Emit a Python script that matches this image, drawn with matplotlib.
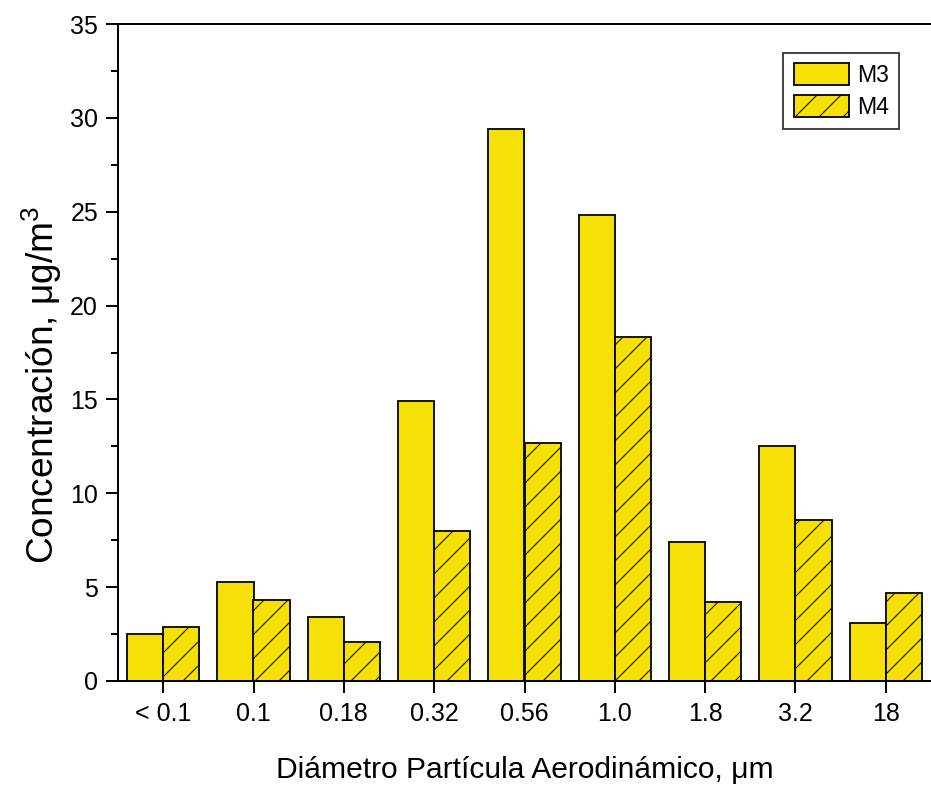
import numpy as np
from matplotlib import pyplot as plt
from matplotlib.ticker import MultipleLocator

plt.rcParams['font.family'] = ['Liberation Sans', 'DejaVu Sans']
plt.rcParams['mathtext.fontset'] = 'custom'
plt.rcParams['mathtext.rm'] = 'Liberation Sans'
plt.rcParams['mathtext.it'] = 'Liberation Sans'
plt.rcParams['hatch.linewidth'] = 1.0

# particle size stages and concentrations (ug/m3)
stages = ["< 0.1", "0.1", "0.18", "0.32", "0.56", "1.0", "1.8", "3.2", "18"]
m3 = [2.5, 5.3, 3.4, 14.9, 29.4, 24.8, 7.4, 12.5, 3.1]
m4 = [2.9, 4.3, 2.1, 8.0, 12.7, 18.3, 4.2, 8.6, 4.7]

yellow = "#F5E106"
x = np.arange(len(stages))
w = 0.4

fig = plt.figure(figsize=(931/72, 788/72), dpi=72)
ax = fig.add_axes([118/931, 1 - 681/788, 1 - 118/931, (681 - 24)/788])

ax.bar(x - w/2, m3, width=w, color=yellow, edgecolor="black", linewidth=1.8, label="M3")
ax.bar(x + w/2, m4, width=w, color=yellow, edgecolor="black", linewidth=1.8,
       hatch="/", label="M4")

ax.set_xlim(-0.5, 8.5)
ax.set_ylim(0, 35)
ax.set_xticks(x)
ax.set_xticklabels(stages)
ax.yaxis.set_major_locator(MultipleLocator(5))
ax.yaxis.set_minor_locator(MultipleLocator(2.5))

ax.tick_params(axis="both", which="major", direction="out", length=12, width=2,
               labelsize=25)
ax.tick_params(axis="y", which="minor", direction="out", length=7, width=2)
ax.tick_params(axis="x", pad=9)
ax.tick_params(axis="y", pad=8)

for side in ["left", "bottom", "top"]:
    ax.spines[side].set_linewidth(2)
ax.spines["right"].set_visible(False)

ax.set_xlabel("Diámetro Partícula Aerodinámico, μm", fontsize=30, labelpad=30)
ax.set_ylabel("Concentración, μg/m$^{3}$", fontsize=37)
ax.yaxis.set_label_coords(-0.066, 0.45)

leg = ax.legend(loc="upper right", bbox_to_anchor=(1 - 32/813, 1 - 29/657),
                borderaxespad=0, fontsize=23, frameon=True, fancybox=False,
                handlelength=2.4, handleheight=1.1, handletextpad=0.35,
                labelspacing=0.35, borderpad=0.45)
leg.get_frame().set_edgecolor("black")
leg.get_frame().set_linewidth(1.8)

fig.savefig("out.png", dpi=72)
